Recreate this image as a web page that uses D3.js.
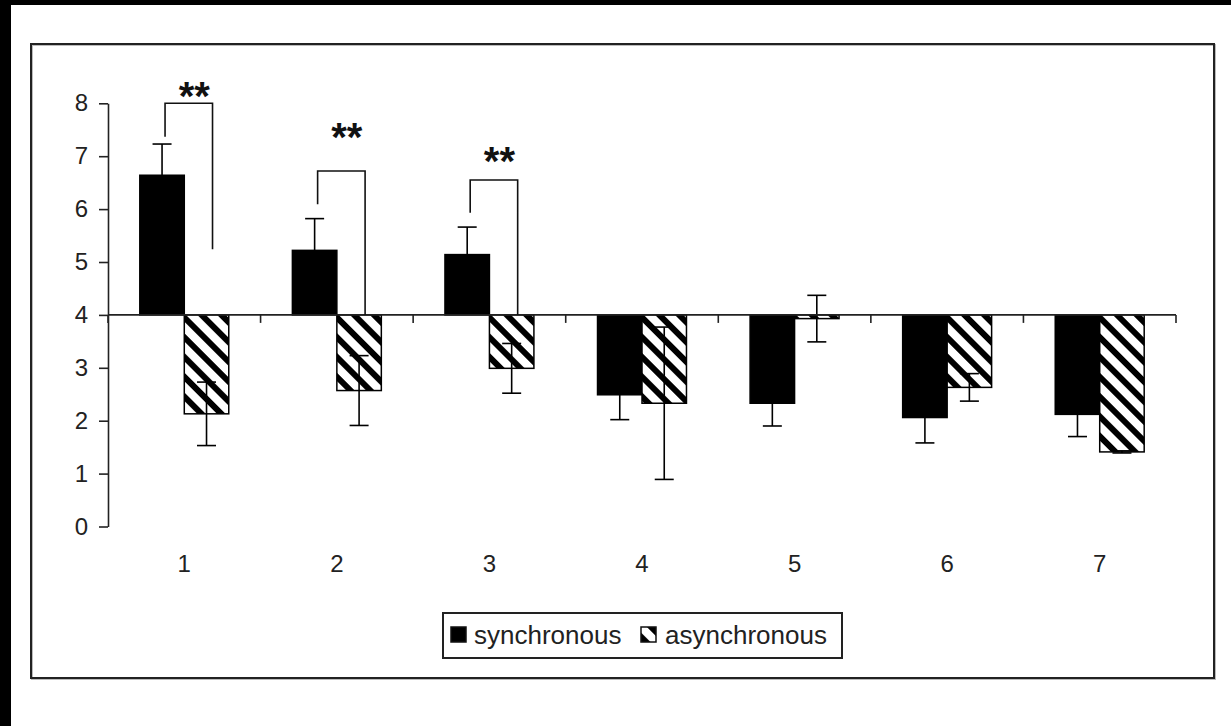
<!DOCTYPE html>
<html>
<head>
<meta charset="utf-8">
<script src="https://cdn.jsdelivr.net/npm/d3@7"></script>
<style>
  html, body { margin: 0; padding: 0; background: #fff; }
  svg { display: block; font-family: "Liberation Sans", Arial, sans-serif; }
</style>
</head>
<body>
<svg id="chart" width="1231" height="726"></svg>
<script>
// data
const categories = ["1", "2", "3", "4", "5", "6", "7"];
const seriesNames = ["synchronous", "asynchronous"];
const syncValues = [6.64, 5.22, 5.14, 2.49, 2.33, 2.06, 2.12];
const syncErrors = [0.59, 0.60, 0.52, 0.47, 0.43, 0.48, 0.42];
const asyncValues = [2.13, 2.57, 2.99, 2.33, 3.93, 2.63, 1.41];
const asyncErrors = [0.60, 0.66, 0.47, 1.44, 0.44, 0.26, 0.02];
const yTicks = [0, 1, 2, 3, 4, 5, 6, 7, 8];
const baseValue = 4;
// significance brackets: category, top of bracket, lower ends, star height
const brackets = [
  {cat: "1", top: 8.0, left: 7.37, right: 5.24, star: 8.22, label: "**"},
  {cat: "2", top: 6.72, left: 6.09, right: 4.0, star: 7.43, label: "**"},
  {cat: "3", top: 6.55, left: 5.93, right: 4.0, star: 6.99, label: "**"}
];

const svg = d3.select("#chart");

// black page edges
svg.append("rect").attr("x", 0).attr("y", 0).attr("width", 1231).attr("height", 726).attr("fill", "#fff");
svg.append("rect").attr("x", 0).attr("y", 0).attr("width", 11).attr("height", 726).attr("fill", "#000");
svg.append("rect").attr("x", 0).attr("y", 0).attr("width", 1231).attr("height", 5).attr("fill", "#000");

// chart frame with faint shadow
svg.append("rect").attr("x", 32).attr("y", 45).attr("width", 1183).attr("height", 634)
  .attr("fill", "none").attr("stroke", "#bbb").attr("stroke-width", 2);
svg.append("rect").attr("x", 31).attr("y", 44).attr("width", 1183).attr("height", 634)
  .attr("fill", "none").attr("stroke", "#222").attr("stroke-width", 2);

// hatch pattern
const defs = svg.append("defs");
const pat = defs.append("pattern")
  .attr("id", "hatch")
  .attr("patternUnits", "userSpaceOnUse")
  .attr("width", 14).attr("height", 14)
  .attr("patternTransform", "rotate(-45)");
pat.append("rect").attr("width", 14).attr("height", 14).attr("fill", "#fff");
pat.append("rect").attr("width", 6).attr("height", 14).attr("fill", "#000");

const x = d3.scaleBand()
  .domain(categories)
  .range([108, 1176])
  .paddingInner(0.417)
  .paddingOuter(0.2085);

const xSub = d3.scaleBand()
  .domain(seriesNames)
  .range([0, x.bandwidth()]);

const y = d3.scaleLinear().domain([0, 8]).range([526.5, 103.3]);

const rows = categories.map((c, i) => ({
  cat: c,
  bars: [
    {series: "synchronous", value: syncValues[i], err: syncErrors[i]},
    {series: "asynchronous", value: asyncValues[i], err: asyncErrors[i]}
  ]
}));

const groups = svg.append("g").attr("id", "bars")
  .selectAll("g")
  .data(rows)
  .enter()
  .append("g")
  .attr("transform", d => `translate(${x(d.cat)},0)`);

groups.selectAll("rect")
  .data(d => d.bars)
  .enter()
  .append("rect")
  .attr("x", b => xSub(b.series))
  .attr("width", xSub.bandwidth())
  .attr("y", b => Math.min(y(b.value), y(baseValue)))
  .attr("height", b => Math.abs(y(b.value) - y(baseValue)))
  .attr("fill", b => b.series === "synchronous" ? "#000" : "url(#hatch)")
  .attr("stroke", "#000")
  .attr("stroke-width", 1.5);

// axes
const yAxis = svg.append("g").attr("transform", "translate(108,0)")
  .call(d3.axisLeft(y).tickValues(yTicks).tickSize(9).tickPadding(11).tickSizeOuter(0));
yAxis.select(".domain").attr("stroke", "#222").attr("stroke-width", 1.6);
yAxis.selectAll(".tick line").attr("stroke", "#222").attr("stroke-width", 1.6);
yAxis.selectAll(".tick text")
  .attr("font-size", 24).attr("fill", "#222")
  .attr("font-family", "Liberation Sans, Arial, sans-serif");

const step = x.step();
const gap = step - x.bandwidth();
const boundaries = categories.map(c => x(c) - gap / 2).concat([x(categories[categories.length - 1]) + x.bandwidth() + gap / 2]);

const xAxis = svg.append("g").attr("id", "xaxis");
xAxis.append("line")
  .attr("x1", 108).attr("x2", boundaries[boundaries.length - 1])
  .attr("y1", y(baseValue)).attr("y2", y(baseValue))
  .attr("stroke", "#222").attr("stroke-width", 1.6);
xAxis.selectAll("line.tk")
  .data(boundaries)
  .enter()
  .append("line")
  .attr("class", "tk")
  .attr("x1", d => d).attr("x2", d => d)
  .attr("y1", y(baseValue)).attr("y2", y(baseValue) + 8)
  .attr("stroke", "#222").attr("stroke-width", 1.6);

svg.append("g").selectAll("text")
  .data(categories)
  .enter()
  .append("text")
  .attr("x", c => x(c) + x.bandwidth() / 2)
  .attr("y", 572)
  .attr("text-anchor", "middle")
  .attr("font-size", 24)
  .attr("fill", "#222")
  .text(c => c);

// error bars
const capW = 19;
const errs = groups.selectAll("g.err")
  .data(d => d.bars)
  .enter()
  .append("g")
  .attr("class", "err")
  .attr("stroke", "#000")
  .attr("stroke-width", 1.6);
const cx = b => xSub(b.series) + xSub.bandwidth() / 2;
errs.append("line")
  .attr("x1", cx).attr("x2", cx)
  .attr("y1", b => y(b.value + b.err)).attr("y2", b => y(b.value - b.err));
errs.append("line")
  .attr("x1", b => cx(b) - capW / 2).attr("x2", b => cx(b) + capW / 2)
  .attr("y1", b => y(b.value + b.err)).attr("y2", b => y(b.value + b.err));
errs.append("line")
  .attr("x1", b => cx(b) - capW / 2).attr("x2", b => cx(b) + capW / 2)
  .attr("y1", b => y(b.value - b.err)).attr("y2", b => y(b.value - b.err));

// significance brackets
const br = svg.append("g").attr("id", "brackets");
brackets.forEach(b => {
  const xl = x(b.cat) + xSub("synchronous") + xSub.bandwidth() / 2 + 3;
  const xr = x(b.cat) + xSub("asynchronous") + xSub.bandwidth() / 2 + 6;
  br.append("path")
    .attr("d", `M${xl},${y(b.left)}V${y(b.top)}H${xr}V${y(b.right)}`)
    .attr("fill", "none")
    .attr("stroke", "#111")
    .attr("stroke-width", 1.6);
  br.append("text")
    .attr("x", x(b.cat) + x.bandwidth() / 2 + 10)
    .attr("y", y(b.star) + 18)
    .attr("text-anchor", "middle")
    .attr("font-size", 40)
    .attr("font-weight", "bold")
    .attr("fill", "#111")
    .text(b.label);
});

// legend
const lg = svg.append("g").attr("id", "legend");
lg.append("rect").attr("x", 443).attr("y", 613).attr("width", 399).attr("height", 45)
  .attr("fill", "#fff").attr("stroke", "#222").attr("stroke-width", 2);
const legendItems = [
  {name: seriesNames[0], fill: "#000", sx: 451, tx: 474},
  {name: seriesNames[1], fill: "url(#hatch)", sx: 641, tx: 665}
];
legendItems.forEach(it => {
  lg.append("rect").attr("x", it.sx).attr("y", 627).attr("width", 15).attr("height", 15)
    .attr("fill", it.fill).attr("stroke", "#111").attr("stroke-width", 1.5);
  lg.append("text").attr("x", it.tx).attr("y", 644)
    .attr("font-size", 26).attr("fill", "#222").text(it.name);
});
</script>
</body>
</html>
